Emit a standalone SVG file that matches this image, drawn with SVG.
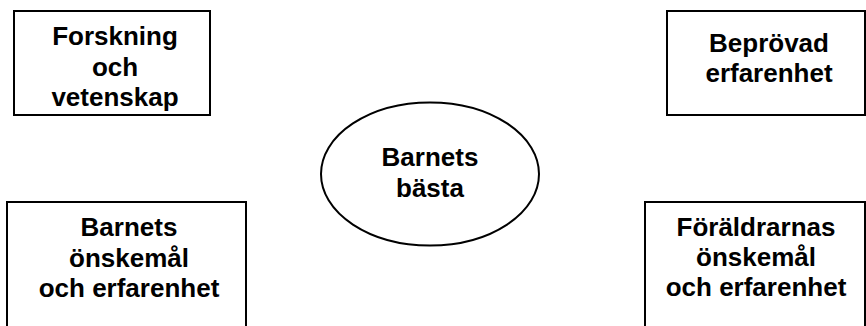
<svg xmlns="http://www.w3.org/2000/svg" width="866" height="326" viewBox="0 0 866 326">
<style>
.box{fill:#fff;stroke:#000;stroke-width:2}
.t{font-family:"Liberation Sans",Arial,sans-serif;font-weight:bold;font-size:26px;fill:#000;text-anchor:middle}
</style>
<rect width="866" height="326" fill="#fff"/>
<g id="forskning">
<rect class="box" x="14" y="11" width="196" height="104"/>
<text class="t" x="115" y="45">Forskning</text>
<text class="t" x="115" y="76">och</text>
<text class="t" x="115" y="106">vetenskap</text>
</g>
<g id="beprovad">
<rect class="box" x="667" y="11" width="198" height="104"/>
<text class="t" x="769" y="52">Beprövad</text>
<text class="t" x="769" y="82">erfarenhet</text>
</g>
<g id="barnets-basta">
<ellipse class="box" cx="430" cy="174" rx="109" ry="71.5"/>
<text class="t" x="430" y="166">Barnets</text>
<text class="t" x="430" y="197">bästa</text>
</g>
<g id="barnets-onskemal">
<rect class="box" x="7" y="202" width="239" height="130"/>
<text class="t" x="129" y="236">Barnets</text>
<text class="t" x="129" y="267">önskemål</text>
<text class="t" x="129" y="297">och erfarenhet</text>
</g>
<g id="foraldrarnas-onskemal">
<rect class="box" x="645" y="202" width="220" height="130"/>
<text class="t" x="756" y="236">Föräldrarnas</text>
<text class="t" x="756" y="266">önskemål</text>
<text class="t" x="756" y="296">och erfarenhet</text>
</g>
<g id="connectors"></g>
</svg>
